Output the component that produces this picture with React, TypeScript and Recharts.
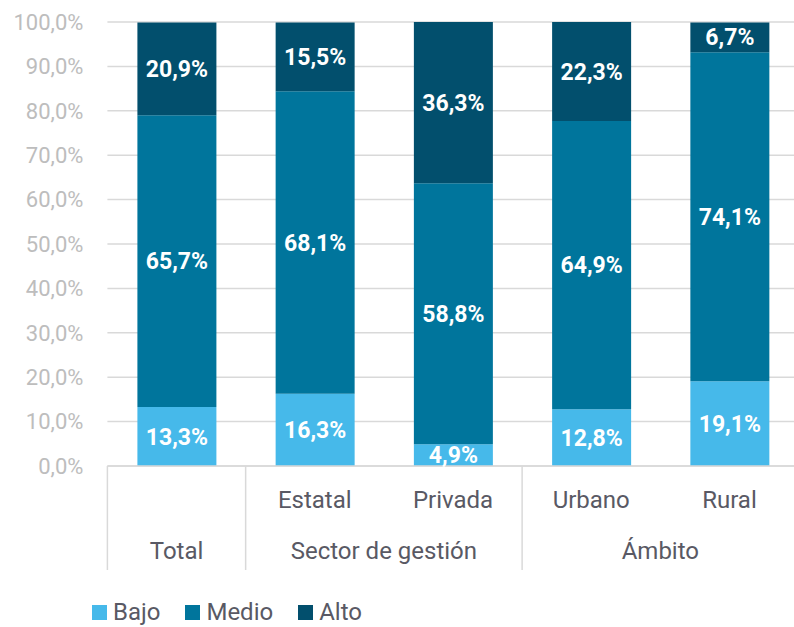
import { Bar, BarChart, CartesianGrid, LabelList, Legend, XAxis, YAxis } from "recharts";

const categories = ["Total", "Estatal", "Privada", "Urbano", "Rural"];
const subLabels = ["", "Estatal", "Privada", "Urbano", "Rural"];
const groups = [
  { label: "Total", start: 0, end: 0 },
  { label: "Sector de gestión", start: 1, end: 2 },
  { label: "Ámbito", start: 3, end: 4 },
];
const bajo = [13.3, 16.3, 4.9, 12.8, 19.1];
const medio = [65.7, 68.1, 58.8, 64.9, 74.1];
const alto = [20.9, 15.5, 36.3, 22.3, 6.7];
const yTicks = [0, 10, 20, 30, 40, 50, 60, 70, 80, 90, 100];

const series = [
  { key: "bajo", name: "Bajo", color: "#46b9ea" },
  { key: "medio", name: "Medio", color: "#00759c" },
  { key: "alto", name: "Alto", color: "#024f6d" },
];

const data = categories.map((c, i) => ({
  name: c,
  bajo: bajo[i],
  medio: medio[i],
  alto: alto[i],
}));

const CHART_W = 800;
const CHART_H = 627;
const MARGIN = { top: 22, right: 1.4, left: 0, bottom: 0 };
const Y_W = 107.4;
const BAND = (CHART_W - MARGIN.left - MARGIN.right - Y_W) / categories.length;
const FONT = "Roboto, 'Noto Sans', sans-serif";
const TEXT = "#595964";
const GRID = "#d9d9d9";

const pct = (v: number) => `${v.toFixed(1).replace(".", ",")}%`;

function CategoryTick(props: any) {
  const { x, y, payload } = props;
  const i: number = payload.index ?? props.index;
  const half = BAND / 2;
  const group = groups.find((g) => g.start === i);
  return (
    <g>
      {subLabels[i] && (
        <text x={x} y={y + 42} textAnchor="middle" fontSize={24} fill={TEXT} fontFamily={FONT}>
          {subLabels[i]}
        </text>
      )}
      {group && (
        <>
          <line x1={x - half} x2={x - half} y1={y} y2={y + 104} stroke={GRID} strokeWidth={1.5} />
          <text
            x={x - half + ((group.end - group.start + 1) * BAND) / 2}
            y={y + 93}
            textAnchor="middle"
            fontSize={24}
            fill={TEXT}
            fontFamily={FONT}
          >
            {group.label}
          </text>
        </>
      )}
      {i === categories.length - 1 && (
        <line x1={x + half} x2={x + half} y1={y} y2={y + 104} stroke={GRID} strokeWidth={1.5} />
      )}
    </g>
  );
}

function LegendContent() {
  return (
    <div style={{ display: "flex", alignItems: "center", fontFamily: FONT, fontSize: 24, lineHeight: "24px", color: TEXT }}>
      {series.map((s) => (
        <div key={s.key} style={{ display: "flex", alignItems: "center", marginRight: 25 }}>
          <span style={{ width: 15, height: 15, background: s.color, marginRight: 6, display: "inline-block" }} />
          <span>{s.name}</span>
        </div>
      ))}
    </div>
  );
}

export default function App() {
  return (
    <div style={{ position: "absolute", left: 0, top: 0, width: 794, height: 627, overflow: "hidden", background: "#fff" }}>
      <BarChart width={CHART_W} height={CHART_H} data={data} margin={MARGIN}>
        <CartesianGrid vertical={false} stroke={GRID} strokeWidth={1.5} />
        <YAxis
          width={Y_W}
          domain={[0, 100]}
          ticks={yTicks}
          interval={0}
          tickFormatter={pct}
          axisLine={false}
          tickLine={false}
          tickSize={0}
          tickMargin={24}
          tick={{ fontSize: 22, fill: "#bdbdbd", fontFamily: FONT }}
        />
        <XAxis
          dataKey="name"
          height={CHART_H - 466 - MARGIN.bottom}
          interval={0}
          tickLine={false}
          tickSize={0}
          tickMargin={0}
          axisLine={{ stroke: GRID, strokeWidth: 1.5 }}
          tick={<CategoryTick />}
        />
        <Legend
          verticalAlign="middle"
          align="center"
          layout="horizontal"
          content={<LegendContent />}
          wrapperStyle={{ top: 600, left: 92, width: "auto", height: 24 }}
        />
        {series.map((s) => (
          <Bar key={s.key} dataKey={s.key} name={s.name} stackId="a" fill={s.color} barSize={79} isAnimationActive={false}>
            <LabelList
              dataKey={s.key}
              position="center"
              formatter={(v: any) => pct(Number(v))}
              fill="#ffffff"
              fontSize={23}
              fontWeight={700}
              fontFamily={FONT}
            />
          </Bar>
        ))}
      </BarChart>
    </div>
  );
}
